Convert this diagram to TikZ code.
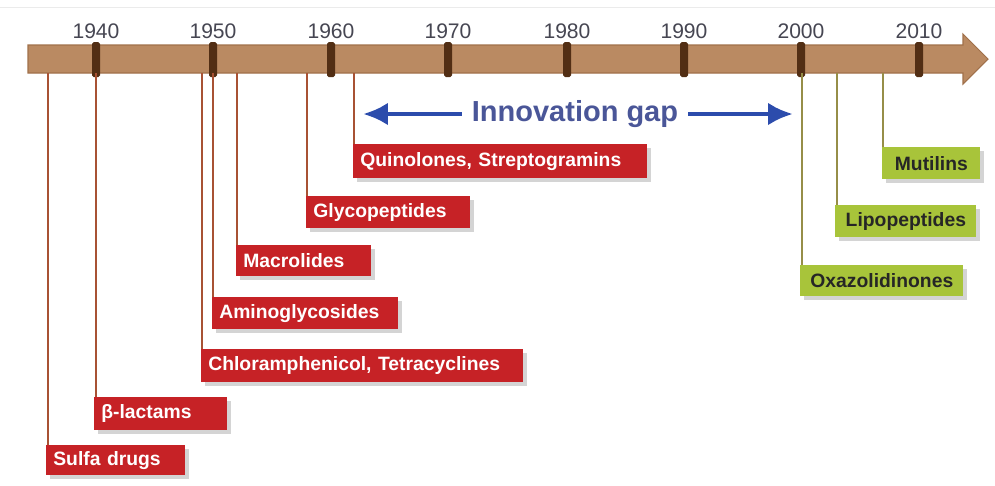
\documentclass[tikz,border=0pt]{standalone}
\usepackage{fontspec}
\setmainfont{Liberation Sans}
\usetikzlibrary{arrows.meta,shadows}

\definecolor{barfill}{RGB}{186,138,98}
\definecolor{baredge}{RGB}{160,112,74}
\definecolor{tickdark}{RGB}{82,46,20}
\definecolor{yeargray}{RGB}{70,70,82}
\definecolor{drugred}{RGB}{198,34,38}
\definecolor{redline}{RGB}{168,82,52}
\definecolor{newgreen}{RGB}{168,196,58}
\definecolor{greenline}{RGB}{150,142,72}
\definecolor{gapblue}{RGB}{44,76,172}
\definecolor{gaptxt}{RGB}{74,86,152}

\tikzset{
  classbox/.style={anchor=north west, inner xsep=0.14cm, inner ysep=0pt,
    font=\bfseries\fontsize{11}{13}\selectfont,
    drop shadow={shadow xshift=0.08cm, shadow yshift=-0.08cm, opacity=0.28, fill=black!60}},
  oldbox/.style={classbox, fill=drugred, text=white, align=left},
  newbox/.style={classbox, fill=newgreen, text=black!85, align=center},
  yearlbl/.style={font=\fontsize{12}{14}\selectfont, text=yeargray},
  gaptext/.style={font=\bfseries\fontsize{16.5}{19}\selectfont, text=gaptxt, inner xsep=0.2cm},
  gaparrow/.style={-{Latex[length=0.5cm, width=0.46cm]}, line width=2.8pt, line cap=butt, gapblue}
}

\begin{document}
\begin{tikzpicture}[x=0.02cm, y=-0.02cm]

\useasboundingbox (0,0) rectangle (995,485);

% Faint top edge
\draw[black!8] (0,7) -- (995,7);

% Timeline arrow
\filldraw[fill=barfill, draw=baredge, line width=0.6pt]
  (28,45) -- (963,45) -- (963,34) -- (988,59) -- (963,84) -- (963,73) -- (28,73) -- cycle;

% Decade ticks (about 117.6px per decade)
\foreach \yr/\tx in {1940/96, 1950/213, 1960/331, 1970/448, 1980/567, 1990/684, 2000/801, 2010/919} {
  \fill[tickdark, rounded corners=1pt] (\tx-4,42) rectangle (\tx+4,77);
  \node[yearlbl] (y\yr) at (\tx,31) {\yr};
}

% Innovation gap
\node[gaptext] (gap) at (575,114) {Innovation gap};
\coordinate (gapL) at (363,114);
\coordinate (gapR) at (793,114);
\draw[gaparrow] (gap.west) -- (gapL);
\draw[gaparrow] (gap.east) -- (gapR);

% Older classes: name / line x / box left / box top / box width / box height / label
\foreach \nm/\lx/\bl/\bt/\bw/\bh/\txt in {
    sulfa/48/46/445/139/30/Sulfa drugs,
    blact/96/94/397/133/33/β-lactams,
    chloram/202/201/349/322/33/{Chloramphenicol, Tetracyclines},
    amino/213/212/297/186/32/Aminoglycosides,
    macro/237/236/245/135/31/Macrolides,
    glyco/307/306/196/164/32/Glycopeptides,
    quino/354/353/144/294/34/{Quinolones, Streptogramins}} {
  \pgfmathsetmacro\tw{(\bw-14)*0.02}
  \pgfmathsetmacro\th{\bh*0.02}
  \coordinate (\nm-t) at (\lx,73);
  \node[oldbox, text width=\tw cm, minimum height=\th cm] (\nm) at (\bl,\bt) {\txt};
  \draw[redline, line width=1.1pt] (\nm-t) -- (\nm-t |- \nm.north);
}

% Newer classes (after 2000)
\foreach \nm/\lx/\bl/\bt/\bw/\bh/\txt in {
    oxa/802/800/265/163/31/Oxazolidinones,
    lipo/837/835/205/141/32/Lipopeptides,
    mutil/883/882/147/98/32/Mutilins} {
  \pgfmathsetmacro\tw{(\bw-14)*0.02}
  \pgfmathsetmacro\th{\bh*0.02}
  \coordinate (\nm-t) at (\lx,73);
  \node[newbox, text width=\tw cm, minimum height=\th cm] (\nm) at (\bl,\bt) {\txt};
  \draw[greenline, line width=1.1pt] (\nm-t) -- (\nm-t |- \nm.north);
}

\end{tikzpicture}
\end{document}
